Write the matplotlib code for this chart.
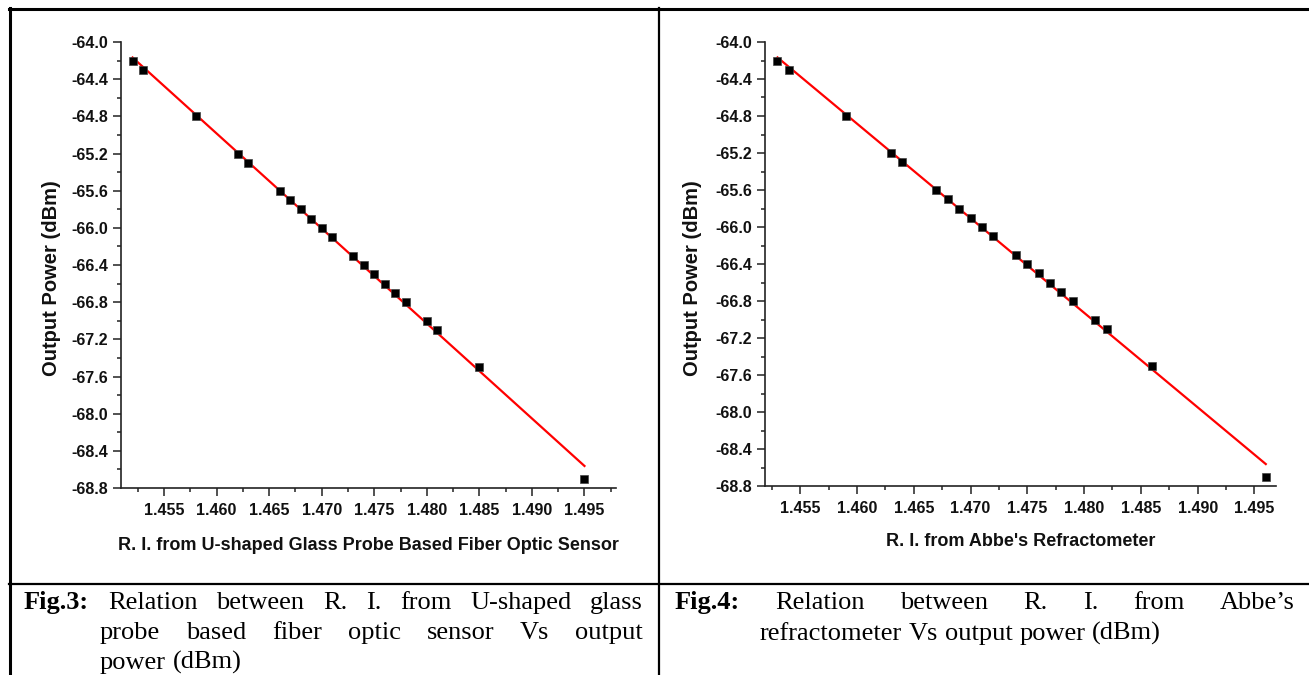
import numpy as np
import matplotlib
matplotlib.use('Agg')
import matplotlib.pyplot as plt
from matplotlib.lines import Line2D
from matplotlib.ticker import MultipleLocator, FormatStrFormatter

# data
ri_sensor = [1.452, 1.453, 1.458, 1.462, 1.463, 1.466, 1.467, 1.468, 1.469, 1.470, 1.471,
             1.473, 1.474, 1.475, 1.476, 1.477, 1.478, 1.480, 1.481, 1.485, 1.495]
ri_abbe = [1.453, 1.454, 1.459, 1.463, 1.464, 1.467, 1.468, 1.469, 1.470, 1.471, 1.472,
           1.474, 1.475, 1.476, 1.477, 1.478, 1.479, 1.481, 1.482, 1.486, 1.496]
power = [-64.2, -64.3, -64.8, -65.2, -65.3, -65.6, -65.7, -65.8, -65.9, -66.0, -66.1,
         -66.3, -66.4, -66.5, -66.6, -66.7, -66.8, -67.0, -67.1, -67.5, -68.7]

xlabel_left = 'R. I. from U-shaped Glass Probe Based Fiber Optic Sensor'
xlabel_right = "R. I. from Abbe's Refractometer"
ylabel = 'Output Power (dBm)'

W, H = 1309, 675
fig = plt.figure(figsize=(W / 100, H / 100), dpi=100)
fig.patch.set_facecolor('white')

sans = 'Liberation Sans'
serif = 'Liberation Serif'


def fx(px):
    return px / W


def fy(py):
    return 1 - py / H


def make_panel(rect, x, y, xlim, xlab, ylab_x, xlab_y):
    ax = fig.add_axes(rect)
    ax.plot(x, y, 's', color='black', markersize=5.6, markeredgecolor='#444444',
            markeredgewidth=0.5, zorder=3)
    # linear fit (red line)
    k, b = np.polyfit(x, y, 1)
    xx = np.array([min(x), max(x)])
    ax.plot(xx, k * xx + b, color='#ff0000', linewidth=1.6, zorder=2)

    ax.set_xlim(xlim)
    ax.set_ylim(-68.8, -64.0)
    ax.xaxis.set_major_locator(MultipleLocator(0.005))
    ax.xaxis.set_minor_locator(MultipleLocator(0.0025))
    ax.yaxis.set_major_locator(MultipleLocator(0.4))
    ax.yaxis.set_minor_locator(MultipleLocator(0.2))
    ax.xaxis.set_major_formatter(FormatStrFormatter('%.3f'))
    ax.yaxis.set_major_formatter(FormatStrFormatter('%.1f'))

    for s in ['top', 'right']:
        ax.spines[s].set_visible(False)
    for s in ['left', 'bottom']:
        ax.spines[s].set_linewidth(1.2)
        ax.spines[s].set_color('#222222')
    ax.tick_params(which='major', direction='out', length=5.5, width=1.1,
                   color='#222222', labelsize=11.5, labelcolor='#111111')
    ax.tick_params(which='minor', direction='out', length=3, width=1.1, color='#222222')
    ax.tick_params(axis='x', which='major', pad=5)
    ax.tick_params(axis='y', which='major', pad=3.5)
    for lab in ax.get_xticklabels() + ax.get_yticklabels():
        lab.set_fontfamily(sans)
        lab.set_fontweight('bold')
    ax.set_facecolor('white')

    fig.text(fx(ylab_x), fy(278), ylabel, rotation=90,
             ha='center', va='center', fontsize=14.5, fontweight='bold',
             family=sans, color='#111111')
    fig.text(rect[0] + rect[2] / 2, fy(xlab_y), xlab, ha='center', va='center',
             fontsize=13, fontweight='bold', family=sans, color='#111111')
    return ax


make_panel([fx(121), fy(488), fx(616) - fx(121), fy(42) - fy(488)],
           ri_sensor, power, (1.4509, 1.4980), xlabel_left, 52, 546)
make_panel([fx(765), fy(486), fx(1276) - fx(765), fy(42) - fy(486)],
           ri_abbe, power, (1.4519, 1.4969), xlabel_right, 693, 542)

# table borders
def hline(y, x0, x1, lw):
    fig.add_artist(Line2D([fx(x0), fx(x1)], [fy(y), fy(y)], color='black', linewidth=lw))


def vline(x, y0, y1, lw):
    fig.add_artist(Line2D([fx(x), fx(x)], [fy(y0), fy(y1)], color='black', linewidth=lw))


hline(9, 9, W, 2.2)
hline(584, 9, W, 1.6)
vline(10, 8, H, 2.2)
vline(659, 8, H, 1.6)

# captions, justified like the document text
renderer = fig.canvas.get_renderer()


def text_line(words, x0, x1, base, justify=True, bold_first=False):
    texts = []
    for i, w in enumerate(words):
        t = fig.text(0, fy(base), w, fontsize=19, family=serif, va='baseline', ha='left',
                     fontweight='bold' if (bold_first and i == 0) else 'normal')
        texts.append(t)
    widths = [t.get_window_extent(renderer).width for t in texts]
    if justify and len(words) > 1:
        gap = (x1 - x0 - sum(widths)) / (len(words) - 1)
    else:
        sp = fig.text(0, 0, 'a a', fontsize=19, family=serif)
        sp2 = fig.text(0, 0, 'aa', fontsize=19, family=serif)
        gap = sp.get_window_extent(renderer).width - sp2.get_window_extent(renderer).width
        sp.remove()
        sp2.remove()
    x = x0
    for t, w in zip(texts, widths):
        t.set_x(fx(x))
        x += w + gap


text_line(['Fig.3:', 'Relation', 'between', 'R.', 'I.', 'from', 'U-shaped', 'glass'],
          24, 643, 609, bold_first=True)
text_line(['probe', 'based', 'fiber', 'optic', 'sensor', 'Vs', 'output'], 100, 643, 639)
text_line(['power', '(dBm)'], 100, 643, 669, justify=False)

text_line(['Fig.4:', 'Relation', 'between', 'R.', 'I.', 'from', 'Abbe\u2019s'],
          675, 1295, 609, bold_first=True)
text_line(['refractometer', 'Vs', 'output', 'power', '(dBm)'], 760, 1295, 640, justify=False)

fig.savefig('out.png', dpi=100)
